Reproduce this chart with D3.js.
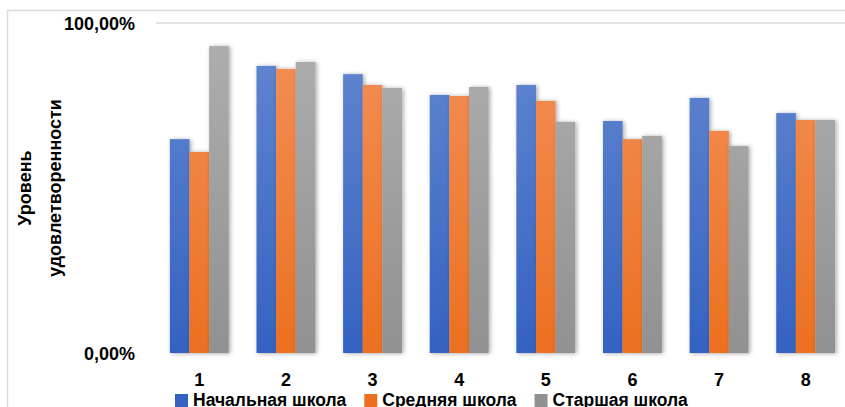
<!DOCTYPE html>
<html>
<head>
<meta charset="utf-8">
<script src="https://cdn.jsdelivr.net/npm/d3@7"></script>
<style>
  body { margin: 0; background: #fff; }
  svg { display: block; font-family: "Liberation Sans", Arial, sans-serif; }
  text { font-weight: 700; }
</style>
</head>
<body>
<svg id="chart" width="845" height="407"></svg>
<script>
// данные
const categories = ["1", "2", "3", "4", "5", "6", "7", "8"];
const seriesNames = ["Начальная школа", "Средняя школа", "Старшая школа"];
const primary = [0.648, 0.870, 0.845, 0.782, 0.812, 0.703, 0.773, 0.727];
const middle = [0.609, 0.861, 0.812, 0.779, 0.764, 0.648, 0.673, 0.706];
const senior = [0.930, 0.882, 0.803, 0.806, 0.700, 0.658, 0.627, 0.706];
const yTicks = [0, 1];
const seriesValues = [primary, middle, senior];

const colors = [
  { top: "#6488d0", bottom: "#3462c1" },
  { top: "#f2915a", bottom: "#ec7020" },
  { top: "#afafaf", bottom: "#919191" }
];

const svg = d3.select("#chart");
const defs = svg.append("defs");

colors.forEach((c, i) => {
  const g = defs.append("linearGradient")
    .attr("id", "grad" + i)
    .attr("gradientUnits", "userSpaceOnUse")
    .attr("x1", 0).attr("x2", 0)
    .attr("y1", 23).attr("y2", 353);
  g.append("stop").attr("offset", "0%").attr("stop-color", c.top);
  g.append("stop").attr("offset", "100%").attr("stop-color", c.bottom);
});

const shadow = defs.append("filter").attr("id", "shadow")
  .attr("x", "-30%").attr("y", "-10%").attr("width", "160%").attr("height", "130%");
shadow.append("feDropShadow")
  .attr("dx", 1.5).attr("dy", 0.5)
  .attr("stdDeviation", 2.2)
  .attr("flood-color", "#000")
  .attr("flood-opacity", 0.35);

// рамка области диаграммы
svg.append("rect")
  .attr("x", 7.5).attr("y", 10.5)
  .attr("width", 860).attr("height", 420)
  .attr("fill", "none")
  .attr("stroke", "#d9d9d9")
  .attr("stroke-width", 1.5);

const x = d3.scaleBand()
  .domain(categories)
  .range([156, 849])
  .paddingInner(0.32)
  .paddingOuter(0.16);

const xs = d3.scaleBand()
  .domain(d3.range(seriesNames.length))
  .range([0, x.bandwidth()]);

const y = d3.scaleLinear()
  .domain([0, 1])
  .range([353, 23]);

// линия 100%
svg.append("line")
  .attr("x1", 156).attr("x2", 845)
  .attr("y1", y(1)).attr("y2", y(1))
  .attr("stroke", "#d9d9d9")
  .attr("stroke-width", 1.5);

// столбцы
seriesValues.forEach((vals, s) => {
  svg.append("g")
    .attr("filter", "url(#shadow)")
    .selectAll("rect")
    .data(vals)
    .join("rect")
    .attr("x", (d, i) => x(categories[i]) + xs(s))
    .attr("y", d => y(d))
    .attr("width", xs.bandwidth())
    .attr("height", d => y(0) - y(d))
    .attr("fill", "url(#grad" + s + ")");
});

// базовая линия 0%
svg.append("line")
  .attr("x1", 156).attr("x2", 845)
  .attr("y1", y(0) + 1).attr("y2", y(0) + 1)
  .attr("stroke", "#cbcbcb")
  .attr("stroke-width", 2.5)
  .attr("filter", "url(#shadow)");

// подписи оси Y
const fmt = v => d3.format(".2f")(v * 100).replace(".", ",") + "%";
svg.append("g")
  .selectAll("text")
  .data(yTicks)
  .join("text")
  .attr("x", 135)
  .attr("y", d => y(d) + 6.5)
  .attr("text-anchor", "end")
  .attr("font-size", 18)
  .attr("fill", "#000")
  .text(fmt);

// подписи оси X
svg.append("g")
  .selectAll("text")
  .data(categories)
  .join("text")
  .attr("x", d => x(d) + x.bandwidth() / 2)
  .attr("y", 386)
  .attr("text-anchor", "middle")
  .attr("font-size", 18)
  .attr("fill", "#000")
  .text(d => d);

// название оси Y
const title = svg.append("text")
  .attr("transform", "translate(0,188) rotate(-90)")
  .attr("text-anchor", "middle")
  .attr("font-size", 18)
  .attr("fill", "#000");
title.append("tspan").attr("x", 0).attr("y", 31).text("Уровень");
title.append("tspan").attr("x", 0).attr("y", 61).text("удовлетворенности");

// легенда
const legend = svg.append("g");
let lx = 175;
seriesNames.forEach((name, i) => {
  legend.append("rect")
    .attr("x", lx).attr("y", 394)
    .attr("width", 13).attr("height", 13)
    .attr("fill", colors[i].bottom);
  const t = legend.append("text")
    .attr("x", lx + 18)
    .attr("y", 406)
    .attr("font-size", 17.5)
    .attr("fill", "#000")
    .text(name);
  lx += 18 + t.node().getComputedTextLength() + 18;
});
</script>
</body>
</html>
